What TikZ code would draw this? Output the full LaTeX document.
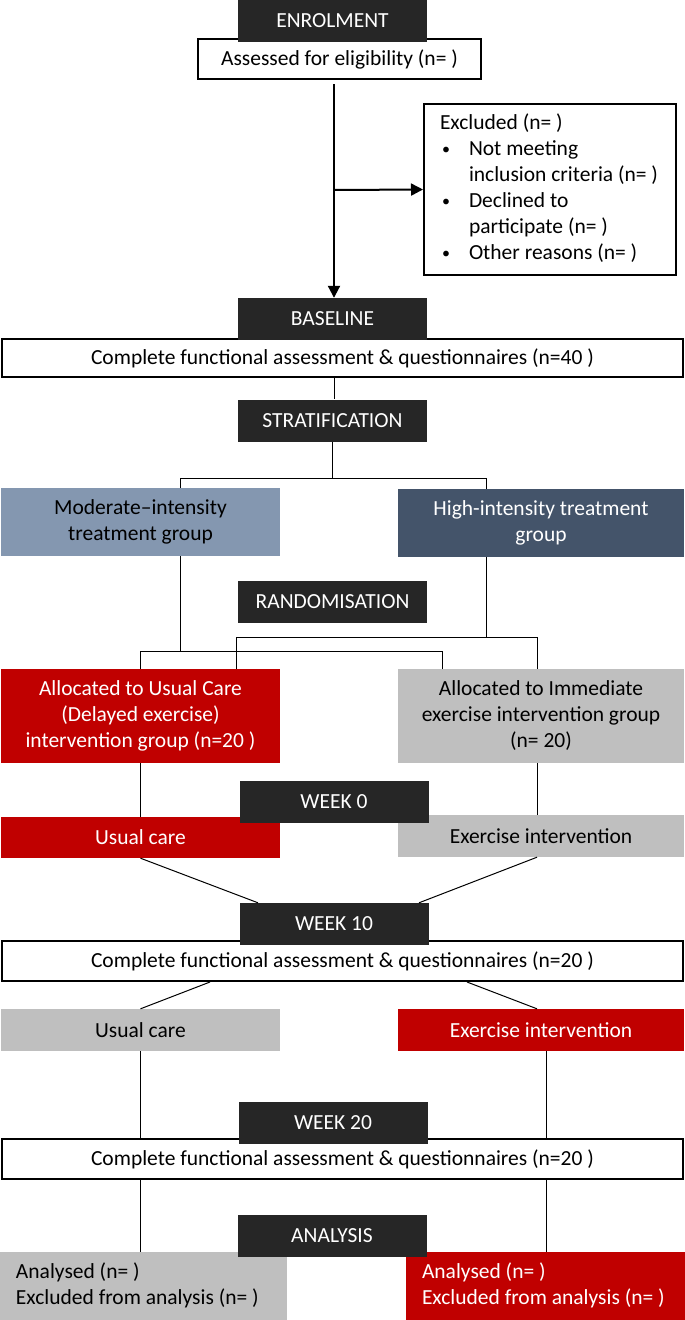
\documentclass[tikz,border=0pt]{standalone}
\usepackage{fontspec}
\setmainfont{Carlito}
\usetikzlibrary{arrows.meta,calc}
\definecolor{dk}{HTML}{262626}
\definecolor{rd}{HTML}{C00000}
\definecolor{gy}{HTML}{BFBFBF}
\definecolor{md}{HTML}{8497B0}
\definecolor{hi}{HTML}{44546A}
\newcommand{\bul}{\makebox[29pt][l]{\hspace*{2pt}{\fontsize{16}{26}\selectfont\raisebox{1.5pt}{•}}}}
\newcommand{\ind}{\hspace*{29pt}}
\begin{document}
\begin{tikzpicture}[x=1pt,y=-1pt,font=\fontsize{21.5}{26}\selectfont,
  box/.style={rectangle,inner sep=0pt,align=center},
  dkbox/.style={box,fill=dk,text=white,minimum width=189pt,minimum height=42pt},
  wbox/.style={box,draw=black,line width=2pt,fill=white},
  cbox/.style={box,minimum width=279pt},
  rbox/.style={box,minimum width=286pt},
  conn/.style={draw=black,line width=1pt},
  thickconn/.style={draw=black,line width=2pt},
  tip/.style={-{Triangle[length=12pt,width=12pt]}}]
\useasboundingbox (0,0) rectangle (685,1320);
\fill[white] (0,0) rectangle (685,1320);
% white boxes
\node[wbox,minimum width=283pt,minimum height=40pt] (assess) at (339.5,59) {Assessed for eligibility (n= )};
\node[wbox,minimum height=171pt,inner xsep=16pt] (excl) at (550,189.5)
 {\makebox[220pt][l]{\begin{tabular}{@{}l@{}}
  Excluded (n= )\\
  \bul Not meeting\\
  \ind inclusion criteria (n= )\\
  \bul Declined to\\
  \ind participate (n= )\\
  \bul Other reasons (n= )
  \end{tabular}}};
\node[wbox,minimum width=681pt,minimum height=38pt] (c1) at (342.5,358) {Complete functional assessment \& questionnaires (n=40 )};
\node[wbox,minimum width=681pt,minimum height=40pt] (c2) at (342.5,961) {Complete functional assessment \& questionnaires (n=20 )};
\node[wbox,minimum width=681pt,minimum height=40pt] (c3) at (342.5,1159) {Complete functional assessment \& questionnaires (n=20 )};
% coloured boxes
\node[cbox,fill=md,text=black,minimum height=68pt] (mod) at (140.5,522) {Moderate–intensity\\treatment group};
\node[rbox,fill=hi,text=white,minimum height=68pt] (high) at (541,523) {High-intensity treatment\\group};
\node[cbox,fill=rd,text=white,minimum height=94pt] (alloc1) at (140.5,716) {Allocated to Usual Care\\(Delayed exercise)\\intervention group (n=20 )};
\node[rbox,fill=gy,text=black,minimum height=94pt] (alloc2) at (541,716) {Allocated to Immediate\\exercise intervention group\\(n= 20)};
\node[cbox,fill=rd,text=white,minimum height=41pt] (uc1) at (140.5,837.5) {Usual care};
\node[rbox,fill=gy,text=black,minimum height=42pt] (ex1) at (541,836) {Exercise intervention};
\node[cbox,fill=gy,text=black,minimum height=42pt] (uc2) at (140.5,1030) {Usual care};
\node[rbox,fill=rd,text=white,minimum height=42pt] (ex2) at (541,1030) {Exercise intervention};
\node[box,fill=gy,text=black,minimum height=68pt,inner xsep=16pt] (an1) at (143.5,1286)
 {\makebox[255pt][l]{\begin{tabular}{@{}l@{}}Analysed (n= )\\Excluded from analysis (n= )\end{tabular}}};
\node[box,fill=rd,text=white,minimum height=68pt,inner xsep=16pt] (an2) at (545.5,1286)
 {\makebox[247pt][l]{\begin{tabular}{@{}l@{}}Analysed (n= )\\Excluded from analysis (n= )\end{tabular}}};
% dark stage boxes
\node[dkbox] (enrol) at (332.5,21) {ENROLMENT};
\node[dkbox] (base) at (332.5,319) {BASELINE};
\node[dkbox] (strat) at (332.5,420.5) {STRATIFICATION};
\node[dkbox] (rand) at (332.5,602) {RANDOMISATION};
\node[dkbox] (wk0) at (334,801.5) {WEEK 0};
\node[dkbox] (wk10) at (334,924) {WEEK 10};
\node[dkbox] (wk20) at (333,1122.5) {WEEK 20};
\node[dkbox] (ana) at (332,1235.5) {ANALYSIS};
% connectors
\coordinate (j) at ($(assess.south)+(-5.5,110)$);
\draw[thickconn,tip] ($(assess.south)+(-5.5,4)$) -- ($(base.north)+(1.5,0)$);
\draw[thickconn,tip] (j) -- (excl.west);
\draw[conn] ($(c1.south)+(-8.5,0)$) -- ($(strat.north)+(1.5,0)$);
\draw[conn] (strat.south) |- ($(mod.north)+(39.5,-9)$) -- ($(mod.north)+(39.5,0)$);
\draw[conn] (strat.south) |- ($(high.north)+(-55,-10)$) -- ($(high.north)+(-55,0)$);
\draw[conn] ($(mod.south)+(39.5,0)$) -- ($(mod.south)+(39.5,96)$);
\draw[conn] (alloc1.north) |- ($(alloc2.north)+(-99,-17)$) -- ($(alloc2.north)+(-99,0)$);
\draw[conn] ($(high.south)+(-55,0)$) -- ($(high.south)+(-55,81)$);
\draw[conn] ($(alloc1.north)+(95.5,0)$) |- ($(alloc2.north)+(-4,-31)$) -- ($(alloc2.north)+(-4,0)$);
\draw[conn] (alloc1.south) -- (uc1.north);
\draw[conn] ($(alloc2.south)+(-4,0)$) -- ($(ex1.north)+(-4,0)$);
\draw[conn] (uc1.south) -- ($(wk10.north)+(-76,0)$);
\draw[conn] ($(ex1.south)+(-4,0)$) -- ($(wk10.north)+(85,0)$);
\draw[conn] ($(c2.south)+(-132.5,0)$) -- (uc2.north);
\draw[conn] ($(c2.south)+(124.5,0)$) -- ($(ex2.north)+(-4,0)$);
\draw[conn] (uc2.south) -- ($(c3.north)+(-202,0)$);
\draw[conn] ($(ex2.south)+(5,0)$) -- ($(c3.north)+(203.5,0)$);
\draw[conn] ($(c3.south)+(-202,0)$) -- ($(an1.north)+(-3,0)$);
\draw[conn] ($(c3.south)+(203.5,0)$) -- ($(an2.north)+(0.5,0)$);
\end{tikzpicture}
\end{document}
